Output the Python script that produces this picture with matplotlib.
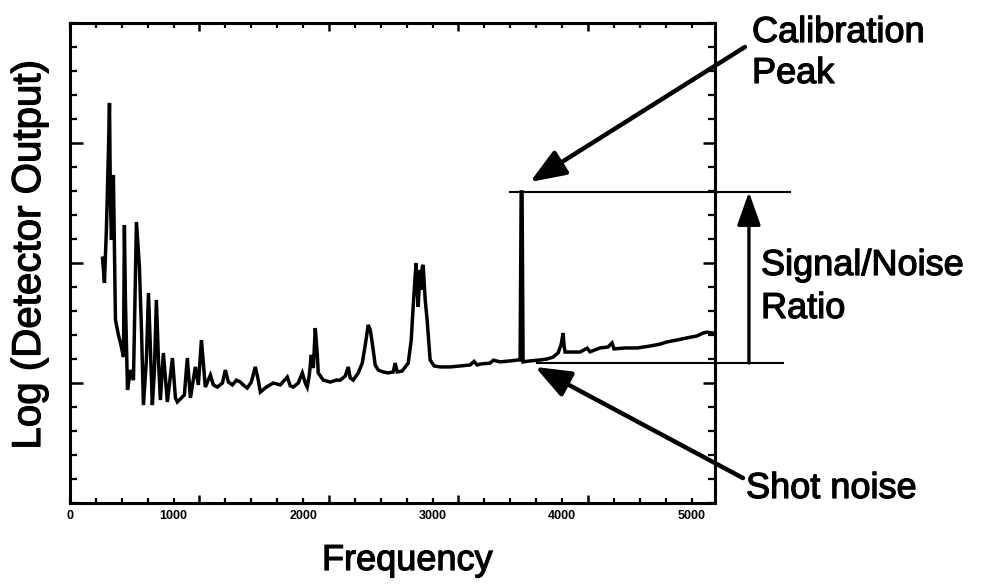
import matplotlib.pyplot as plt
import matplotlib.patheffects as pe
from matplotlib.ticker import FixedLocator, MultipleLocator, FuncFormatter, NullFormatter

plt.rcParams['font.family'] = ['Liberation Sans', 'DejaVu Sans']

# spectrum (frequency, log detector output in axis units 0..20)
freq = [451, 466, 481, 497, 505, 512, 520, 535, 551, 574,
        590, 613, 620, 628, 644, 667, 690, 713, 736, 752,
        767, 790, 806, 821, 836, 852, 867, 883, 898, 921,
        952, 991, 1014, 1029, 1060, 1083, 1106, 1130, 1168, 1191,
        1215, 1245, 1284, 1307, 1338, 1377, 1400, 1423, 1454, 1485,
        1515, 1546, 1569, 1600, 1631, 1654, 1670, 1716, 1770, 1824,
        1878, 1901, 1924, 1963, 1994, 2017, 2032, 2048, 2063, 2079,
        2094, 2110, 2117, 2156, 2210, 2256, 2287, 2326, 2349, 2364,
        2387, 2426, 2457, 2480, 2503, 2519, 2534, 2557, 2580, 2619,
        2657, 2696, 2711, 2727, 2765, 2812, 2835, 2850, 2866, 2873,
        2881, 2889, 2897, 2904, 2912, 2920, 2927, 2943, 2958, 2981,
        3012, 3059, 3136, 3213, 3290, 3320, 3345, 3367, 3444, 3470,
        3522, 3599, 3660,
        3676, 3684, 3691, 3699, 3753, 3830, 3884, 3931, 3969, 3992,
        4008, 4015, 4023, 4077, 4139, 4194, 4216, 4293, 4355, 4386,
        4401, 4486, 4579, 4679, 4756, 4810, 4887, 4965, 5042, 5088,
        5119, 5165]
level = [10.2, 9.17, 11.38, 14.71, 16.67, 12.63, 10.96, 13.67, 7.63, 7.0,
         6.67, 6.08, 11.58, 8.46, 4.71, 5.54, 5.12, 11.71, 9.83, 7.21,
         4.08, 5.96, 8.75, 6.38, 4.08, 5.54, 8.46, 5.96, 4.29, 6.25,
         4.21, 6.04, 4.38, 4.21, 4.38, 4.5, 6.04, 4.38, 5.67, 4.92,
         6.79, 4.83, 5.33, 4.92, 4.83, 5.0, 5.54, 5.04, 4.92, 5.12,
         5.04, 4.88, 4.79, 5.04, 5.67, 5.12, 4.62, 4.83, 5.0, 4.92,
         5.25, 4.88, 4.83, 5.0, 5.42, 5.0, 4.83, 5.33, 6.17, 5.62,
         7.29, 6.17, 5.42, 5.12, 5.04, 5.12, 5.12, 5.29, 5.67, 5.21,
         5.12, 5.42, 5.83, 6.58, 7.42, 7.21, 6.67, 5.75, 5.54, 5.46,
         5.42, 5.46, 5.83, 5.46, 5.5, 5.83, 6.79, 8.17, 9.5, 10.0,
         8.88, 8.17, 9.08, 9.71, 8.88, 9.83, 9.92, 8.46, 7.63, 5.96,
         5.71, 5.67, 5.67, 5.71, 5.75, 5.9, 5.75, 5.79, 5.83, 5.95,
         5.88, 5.92, 5.96,
         5.96, 12.96, 12.96, 5.88, 5.92, 5.96, 6.0, 6.08, 6.25, 6.58,
         7.08, 6.58, 6.29, 6.29, 6.29, 6.45, 6.3, 6.46, 6.5, 6.67,
         6.42, 6.46, 6.46, 6.54, 6.62, 6.71, 6.79, 6.88, 6.96, 7.08,
         7.12, 7.08]

calib_level = 12.96   # top of the calibration peak
noise_level = 5.83    # shot noise floor
snr_x = 5443


def fx(x):
    return x / 984


def fy(y):
    return 1 - y / 588


fig = plt.figure(figsize=(9.84, 5.88), dpi=100)
ax = fig.add_axes([fx(70), fy(503), fx(715) - fx(70), fy(23) - fy(503)])

ax.plot(freq, level, color='black', lw=2.5, solid_joinstyle='miter')

# guide lines for signal / noise
ax.plot([3599, 5759], [calib_level, calib_level], color='black', lw=1.5, clip_on=False)
ax.plot([3807, 5704], [noise_level, noise_level], color='black', lw=1.5, clip_on=False)

ax.annotate('', xy=(snr_x, calib_level), xytext=(snr_x, noise_level),
            arrowprops=dict(arrowstyle='-|>,head_length=1.7,head_width=0.6', lw=2.4,
                            color='black', shrinkA=0, shrinkB=0, mutation_scale=12),
            annotation_clip=False)
ax.annotate('', xy=(3753, 13.375), xytext=(5412, 19.0),
            arrowprops=dict(arrowstyle='-|>,head_length=1.8,head_width=0.7', lw=3.2,
                            color='black', shrinkA=0, shrinkB=0, mutation_scale=12),
            annotation_clip=False)
ax.annotate('', xy=(3792, 5.67), xytext=(5397, 1.04),
            arrowprops=dict(arrowstyle='-|>,head_length=1.8,head_width=0.7', lw=3.2,
                            color='black', shrinkA=0, shrinkB=0, mutation_scale=12),
            annotation_clip=False)

ax.set_xlim(200, 5181)
ax.set_ylim(0, 20)


def xlab(v, pos):
    if abs(v - 200) < 1:
        return '0'
    if abs(v % 1000) < 1:
        return str(int(round(v)))
    return ''


ax.xaxis.set_major_locator(FixedLocator([1200, 2200, 3200, 4200]))
ax.xaxis.set_major_formatter(NullFormatter())
ax.xaxis.set_minor_locator(MultipleLocator(200))
ax.xaxis.set_minor_formatter(FuncFormatter(xlab))
ax.yaxis.set_major_locator(FixedLocator([5, 10, 15]))
ax.yaxis.set_major_formatter(NullFormatter())
ax.yaxis.set_minor_locator(MultipleLocator(1))

ax.tick_params(which='both', direction='in', top=True, right=True, color='black')
ax.tick_params(axis='x', which='major', length=6, width=1.8)
ax.tick_params(axis='x', which='minor', length=3.5, width=1.6, labelsize=9, pad=5)
ax.tick_params(axis='y', which='major', length=9, width=1.8)
ax.tick_params(axis='y', which='minor', length=5, width=1.6)
for lab in ax.get_xminorticklabels():
    lab.set_fontweight('bold')
for sp in ax.spines.values():
    sp.set_linewidth(2.2)

# scanned lettering is a little heavier than plain regular weight
heavy = [pe.withStroke(linewidth=0.9, foreground='black')]
big = dict(fontsize=26, va='baseline', path_effects=heavy)
fig.text(fx(752), fy(42), 'Calibration', **big)
fig.text(fx(752), fy(83), 'Peak', **big)
fig.text(fx(761), fy(275), 'Signal/Noise', **big)
fig.text(fx(761), fy(318), 'Ratio', **big)
fig.text(fx(746), fy(498), 'Shot noise', **big)
fig.text(fx(322), fy(570), 'Frequency', **big)
fig.text(fx(29), fy(255), 'Log (Detector Output)', fontsize=29, rotation=90,
         ha='center', va='center', path_effects=heavy)

fig.savefig('out.png', dpi=100, facecolor='white')
